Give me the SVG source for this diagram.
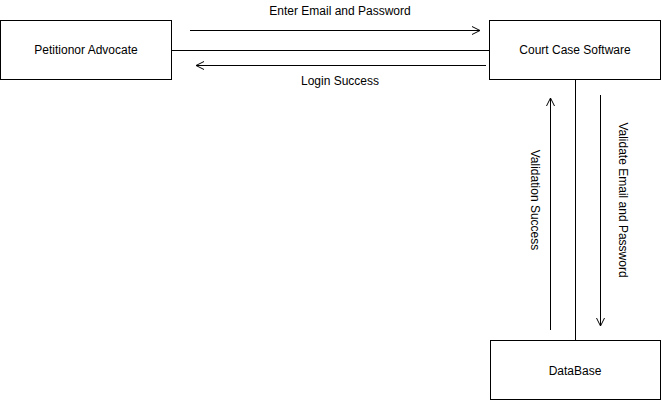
<svg xmlns="http://www.w3.org/2000/svg" width="662" height="402" viewBox="0 0 662 402">
<style>
.box{fill:#fff;stroke:#000;stroke-width:1}
.t{font-family:"Liberation Sans",Arial,sans-serif;font-size:12px;fill:#000;text-anchor:middle;dominant-baseline:central}
.ln{stroke:#000;stroke-width:1;fill:none}
</style>
<defs>
<marker id="ah" viewBox="0 0 10 10" refX="9" refY="5" markerWidth="10" markerHeight="10" markerUnits="userSpaceOnUse" orient="auto">
<path d="M1,1 L9,5 L1,9" fill="none" stroke="#000" stroke-width="1"/>
</marker>
</defs>
<rect width="662" height="402" fill="#fff"/>
<g id="connectors">
<line class="ln" x1="172" y1="50.5" x2="489" y2="50.5"/>
<line class="ln" x1="575.5" y1="80" x2="575.5" y2="340"/>
<line class="ln" x1="190" y1="30.5" x2="480" y2="30.5" marker-end="url(#ah)"/>
<line class="ln" x1="486" y1="65.5" x2="196" y2="65.5" marker-end="url(#ah)"/>
<line class="ln" x1="550.5" y1="330" x2="550.5" y2="98" marker-end="url(#ah)"/>
<line class="ln" x1="600.5" y1="95" x2="600.5" y2="326" marker-end="url(#ah)"/>
<text class="t" x="340" y="11">Enter Email and Password</text>
<text class="t" x="340" y="81">Login Success</text>
<text class="t" transform="translate(535,200) rotate(90)">Validation Success</text>
<text class="t" transform="translate(623,200) rotate(90)">Validate Email and Password</text>
</g>
<g id="petitionor">
<rect class="box" x="0.5" y="20.5" width="171" height="59"/>
<text class="t" x="86" y="50">Petitionor Advocate</text>
</g>
<g id="court">
<rect class="box" x="489.5" y="20.5" width="171" height="59"/>
<text class="t" x="575" y="50">Court Case Software</text>
</g>
<g id="database">
<rect class="box" x="490.5" y="340.5" width="170" height="59"/>
<text class="t" x="575" y="371">DataBase</text>
</g>
</svg>
